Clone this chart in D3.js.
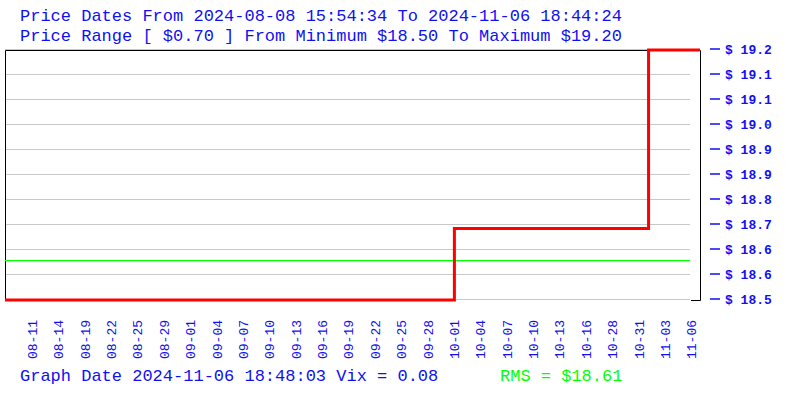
<!DOCTYPE html>
<html><head><meta charset="utf-8">
<script src="https://cdn.jsdelivr.net/npm/d3@7"></script>
<style>body{margin:0;background:#fff}svg{display:block}</style>
</head><body>
<svg id="c" width="800" height="400"></svg>
<script>
const xLabels = ["08-11","08-14","08-19","08-22","08-25","08-29","09-01","09-04","09-07","09-10","09-13","09-16","09-19","09-22","09-25","09-28","10-01","10-04","10-07","10-10","10-13","10-16","10-28","10-31","11-03","11-06"];
// position of each price step in label-index units, and its price
const stepPos = [-1.035, 16.0, 23.36, 25.31];
const stepPrice = [18.50, 18.70, 19.20, 19.20];
const priceMin = 18.50, priceMax = 19.20, rms = 18.61;
const yTickValues = [18.50,18.57,18.64,18.71,18.78,18.85,18.92,18.99,19.06,19.13,19.20];
const titleLines = ["Price Dates From 2024-08-08 15:54:34 To 2024-11-06 18:44:24",
                    "Price Range [ $0.70 ] From Minimum $18.50 To Maximum $19.20"];
const footer = "Graph Date 2024-11-06 18:48:03 Vix = 0.08";
const rmsText = "RMS = $18.61";

const svg = d3.select("#c");
const font = "'Liberation Mono', monospace";
const blue = "#1010f0";
const L = 5, R = 700, T = 50, B = 300;

const x = d3.scaleLinear().domain([-1.035, 25.31]).range([L, R]);
const y = d3.scaleLinear().domain([priceMin, priceMax]).range([B, T]);

// grid
svg.append("g").selectAll("line").data(yTickValues).join("line")
  .attr("x1", L).attr("x2", 690)
  .attr("y1", d => Math.round(y(d)) - 0.5).attr("y2", d => Math.round(y(d)) - 0.5)
  .attr("stroke", "#c8c8c8").attr("stroke-width", 1);

// frame
svg.append("path")
  .attr("d", `M${L+0.5},${B} L${L+0.5},${T+0.5} L${R+0.5},${T+0.5} L${R+0.5},${B+0.5} L691,${B+0.5}`)
  .attr("fill", "none").attr("stroke", "#000").attr("stroke-width", 1);

// rms line
svg.append("line").attr("x1", L).attr("x2", 690)
  .attr("y1", y(rms)).attr("y2", y(rms))
  .attr("stroke", "#00ff00").attr("stroke-width", 1.2);

// price step line
const pts = stepPos.map((p, i) => [p, stepPrice[i]]);
svg.append("path").datum(pts)
  .attr("d", d3.line().x(d => x(d[0])).y(d => y(d[1])).curve(d3.curveStepAfter))
  .attr("fill", "none").attr("stroke", "#ff0000").attr("stroke-width", 3);

// right axis
const yAxis = svg.append("g");
yAxis.selectAll("line").data(yTickValues).join("line")
  .attr("x1", 710).attr("x2", 720)
  .attr("y1", d => y(d) - 1).attr("y2", d => y(d) - 1)
  .attr("stroke", blue).attr("stroke-width", 1.5);
yAxis.selectAll("text").data(yTickValues).join("text")
  .attr("x", 725).attr("y", d => y(d) + 4)
  .attr("font-family", font).attr("font-weight", "bold").attr("font-size", 13)
  .attr("fill", blue).text(d => "$ " + d.toFixed(1));

// x labels
const xl = d3.scalePoint().domain(xLabels).range([x(0), x(25)]);
svg.append("g").selectAll("text").data(xLabels).join("text")
  .attr("transform", d => `translate(${xl(d)},320) rotate(-90)`)
  .attr("text-anchor", "end").attr("dy", "0.35em")
  .attr("font-family", font).attr("font-size", 13)
  .attr("fill", blue).text(d => d);

// titles
svg.selectAll(".t").data(titleLines).join("text").attr("class", "t")
  .attr("x", 20).attr("y", (d, i) => 21 + i * 20)
  .attr("font-family", font).attr("font-size", 17).attr("fill", blue).text(d => d);
svg.append("text").attr("x", 20).attr("y", 381)
  .attr("font-family", font).attr("font-size", 17).attr("fill", blue).text(footer);
svg.append("text").attr("x", 500).attr("y", 381)
  .attr("font-family", font).attr("font-size", 17).attr("fill", "#00ff00").text(rmsText);
</script>
</body></html>
